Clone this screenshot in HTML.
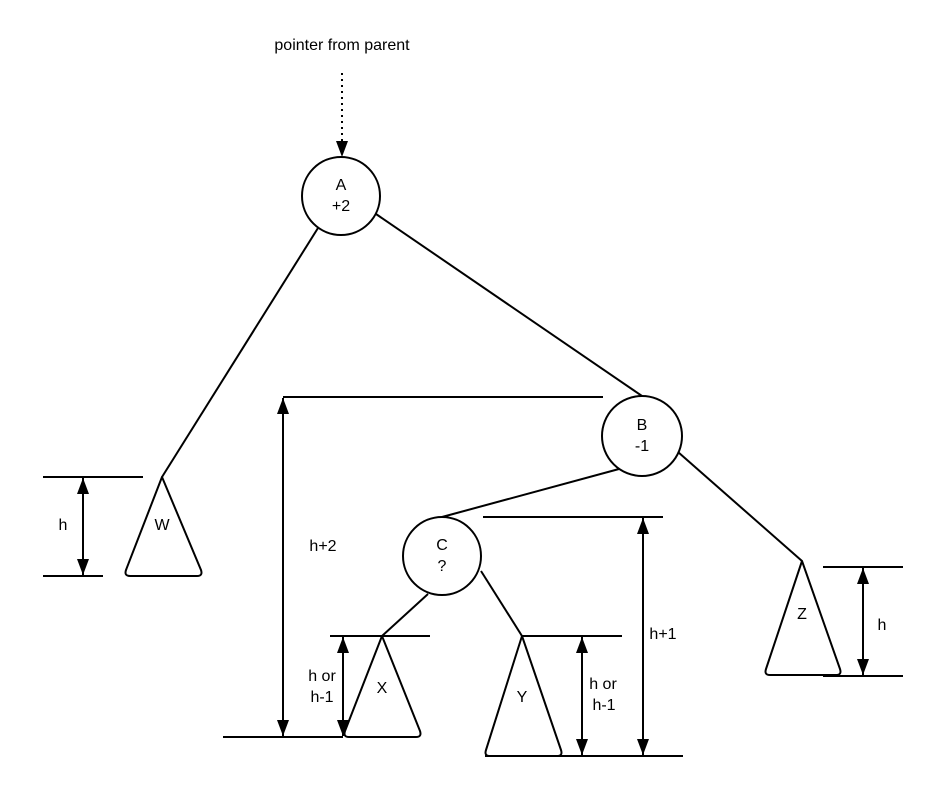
<!DOCTYPE html>
<html><head><style>
html,body{margin:0;padding:0;background:#fff;}
svg{display:block;}
text{font-family:"Liberation Sans",sans-serif;font-size:16px;fill:#000;}
</style></head><body>
<svg width="937" height="795" viewBox="0 0 937 795">
<defs>
<marker id="ah" viewBox="0 0 16 12" refX="16" refY="6" markerWidth="16" markerHeight="12" markerUnits="userSpaceOnUse" orient="auto-start-reverse">
<path d="M0,0 L16,6 L0,12 z" fill="#000"/>
</marker>
</defs>
<g stroke="#000" stroke-width="2" fill="none">
<line x1="342" y1="73" x2="342" y2="157" stroke-dasharray="2,4" marker-end="url(#ah)"/>
<line x1="318" y1="228" x2="162" y2="477"/>
<line x1="376" y1="214" x2="642" y2="396"/>
<line x1="619" y1="469" x2="442" y2="517"/>
<line x1="678" y1="452" x2="802" y2="561"/>
<line x1="428" y1="594" x2="382" y2="636"/>
<line x1="481" y1="571" x2="522" y2="636"/>
<circle cx="341" cy="196" r="39" fill="#fff"/>
<circle cx="642" cy="436" r="40" fill="#fff"/>
<circle cx="442" cy="556" r="39" fill="#fff"/>
<path d="M162,477 L201,570 Q203,576 197,576 L130,576 Q124,576 126,570 Z" stroke-linejoin="round"/>
<path d="M382,636 L420,731 Q422,737 416,737 L349,737 Q343,737 345,731 Z" stroke-linejoin="round"/>
<path d="M522,636 L561,750 Q563,756 557,756 L490,756 Q484,756 486,750 Z" stroke-linejoin="round"/>
<path d="M802,561 L840,669 Q842,675 836,675 L770,675 Q764,675 766,669 Z" stroke-linejoin="round"/>
<line x1="43" y1="477" x2="143" y2="477"/>
<line x1="43" y1="576" x2="103" y2="576"/>
<line x1="83" y1="478" x2="83" y2="575" marker-start="url(#ah)" marker-end="url(#ah)"/>
<line x1="283" y1="397" x2="603" y2="397"/>
<line x1="223" y1="737" x2="343" y2="737"/>
<line x1="283" y1="398" x2="283" y2="736" marker-start="url(#ah)" marker-end="url(#ah)"/>
<line x1="330" y1="636" x2="430" y2="636"/>
<line x1="343" y1="637" x2="343" y2="736" marker-start="url(#ah)" marker-end="url(#ah)"/>
<line x1="522" y1="636" x2="622" y2="636"/>
<line x1="485" y1="756" x2="683" y2="756"/>
<line x1="582" y1="637" x2="582" y2="755" marker-start="url(#ah)" marker-end="url(#ah)"/>
<line x1="483" y1="517" x2="663" y2="517"/>
<line x1="643" y1="518" x2="643" y2="755" marker-start="url(#ah)" marker-end="url(#ah)"/>
<line x1="823" y1="567" x2="903" y2="567"/>
<line x1="823" y1="676" x2="903" y2="676"/>
<line x1="863" y1="568" x2="863" y2="675" marker-start="url(#ah)" marker-end="url(#ah)"/>
</g>
<text x="342" y="50" text-anchor="middle">pointer from parent</text>
<text x="341" y="190" text-anchor="middle">A</text>
<text x="341" y="211" text-anchor="middle">+2</text>
<text x="642" y="430" text-anchor="middle">B</text>
<text x="642" y="451" text-anchor="middle">-1</text>
<text x="442" y="550" text-anchor="middle">C</text>
<text x="442" y="571" text-anchor="middle">?</text>
<text x="162" y="530" text-anchor="middle">W</text>
<text x="382" y="693" text-anchor="middle">X</text>
<text x="522" y="702" text-anchor="middle">Y</text>
<text x="802" y="619" text-anchor="middle">Z</text>
<text x="63" y="530" text-anchor="middle">h</text>
<text x="323" y="551" text-anchor="middle">h+2</text>
<text x="322" y="681" text-anchor="middle">h or</text>
<text x="322" y="702" text-anchor="middle">h-1</text>
<text x="603" y="689" text-anchor="middle">h or</text>
<text x="604" y="710" text-anchor="middle">h-1</text>
<text x="663" y="639" text-anchor="middle">h+1</text>
<text x="882" y="630" text-anchor="middle">h</text>
</svg>
</body></html>
